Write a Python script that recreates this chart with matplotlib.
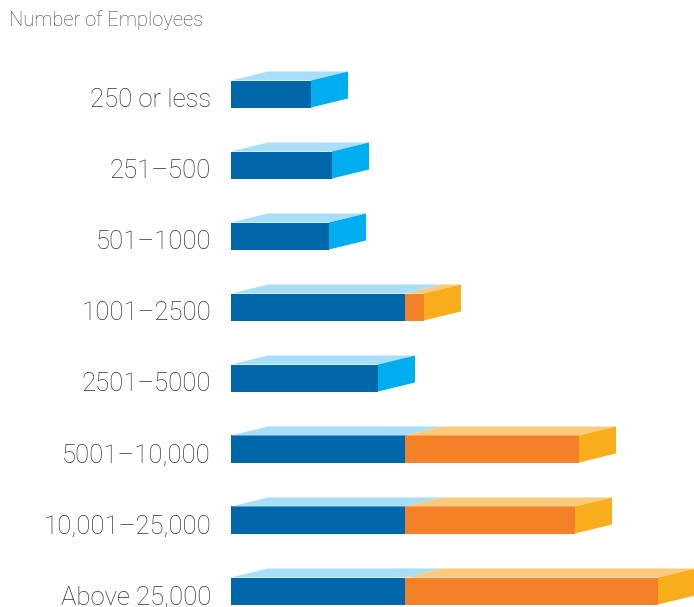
import matplotlib
matplotlib.use("Agg")
import matplotlib.pyplot as plt
from matplotlib.patches import Polygon

# data (bar lengths in chart units)
categories = ["250 or less", "251–500", "501–1000", "1001–2500", "2501–5000",
              "5001–10,000", "10,001–25,000", "Above 25,000"]
blue_vals = [80, 101, 98, 174, 147, 174, 174, 174]
orange_vals = [0, 0, 0, 19, 0, 174, 170, 253]

# colours: front, top, side
BLUE = ("#0067AB", "#A9DEF9", "#00AEEF")
ORANGE = ("#F28127", "#FBCA7C", "#F8AD1D")
FONT = ["Roboto", "DejaVu Sans"]

W, H = 694, 607
fig = plt.figure(figsize=(W / 100, H / 100), dpi=100)
ax = fig.add_axes([0, 0, 1, 1])
x0 = 231
ax.set_xlim(-x0, W - x0)
# bar i front centre at pixel y = 94 + 71*i
ax.set_ylim((H - 94) / 71, -94 / 71)
ax.axis("off")

half = 13.5 / 71
dx, dy = 37, 9 / 71


def seg(left, right, y, cols, side):
    front, top, sidec = cols
    ax.add_patch(Polygon([(left, y - half), (right, y - half), (right, y + half), (left, y + half)],
                         closed=True, fc=front, ec="none"))
    ax.add_patch(Polygon([(left, y - half), (right, y - half), (right + dx, y - half - dy),
                          (left + dx, y - half - dy)], closed=True, fc=top, ec="none"))
    if side:
        ax.add_patch(Polygon([(right, y - half), (right + dx, y - half - dy),
                              (right + dx, y + half - dy), (right, y + half)],
                             closed=True, fc=sidec, ec="none"))


for i, (b, o) in enumerate(zip(blue_vals, orange_vals)):
    seg(0, b, i, BLUE, o == 0)
    if o:
        seg(b, b + o, i, ORANGE, True)
    ax.text(-20, i + 0.09, categories[i], ha="right", va="center",
            fontsize=18.5, color="#333333", family=FONT, fontweight="light")

fig.text(9 / W, 1 - 20 / H, "Number of Employees", ha="left", va="center",
         fontsize=14.5, color="#444444", family=FONT, fontweight="light")

fig.savefig("out.png", dpi=100)
